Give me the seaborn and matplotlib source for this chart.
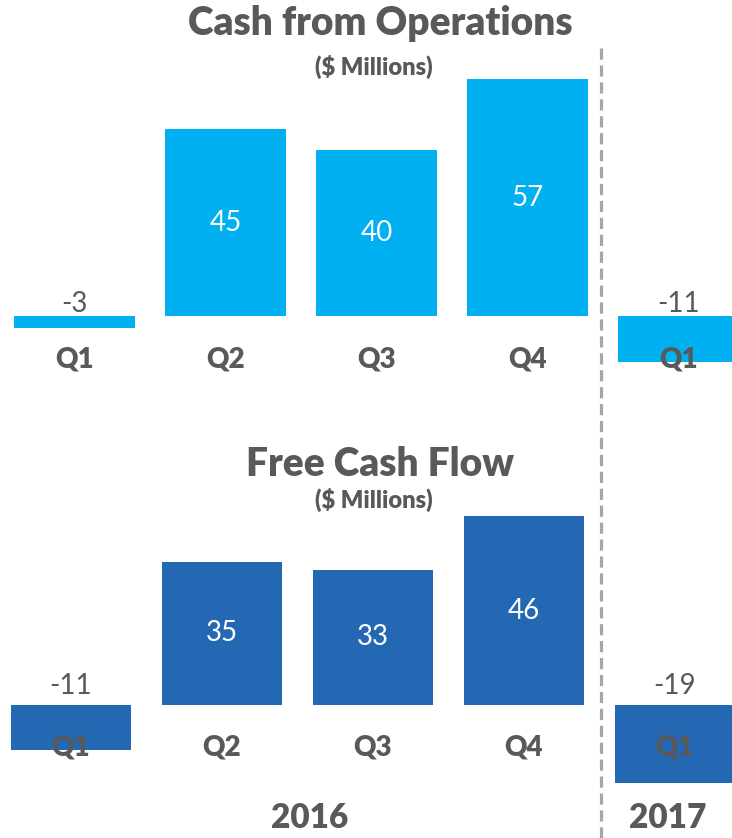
import pandas as pd
import matplotlib.pyplot as plt
import seaborn as sns
from matplotlib.lines import Line2D

# Data ($ Millions)
periods = ['2016 Q1', '2016 Q2', '2016 Q3', '2016 Q4', '2017 Q1']
quarter_labels = ['Q1', 'Q2', 'Q3', 'Q4', 'Q1']
cash_ops = [-3, 45, 40, 57, -11]
free_cash = [-11, 35, 33, 46, -19]
years = ['2016', '2017']

sns.set_theme(style='white')
plt.rcParams['font.family'] = ['Lato', 'DejaVu Sans']
GREY = '#595959'

W, H = 732, 838
fig = plt.figure(figsize=(W / 100, H / 100), dpi=100)


def px_axes(top, bottom):
    # axes spanning full width, given pixel rows
    return fig.add_axes([0, (H - bottom) / H, 1, (bottom - top) / H])


def draw_panel(ax, values, color, xlim, ylim, title_y, sub_y, title, q_off, neg_off):
    df = pd.DataFrame({'period': periods, 'value': values})
    sns.barplot(data=df, x='period', y='value', order=periods, color=color,
                saturation=1, width=0.8, linewidth=0, ax=ax)
    ax.set_xlim(*xlim)
    ax.set_ylim(*ylim)
    ax.axis('off')
    ax.patch.set_alpha(0)
    for i, v in enumerate(values):
        if v >= 0:
            ax.text(i, v / 2, str(v), ha='center', va='center',
                    fontsize=20, color='white')
        else:
            ax.annotate(str(v), (i, 0), xytext=(0, neg_off), textcoords='offset points',
                        ha='center', va='center', fontsize=20, color=GREY)
        ax.annotate(quarter_labels[i], (i, 0), xytext=(0, q_off), textcoords='offset points',
                    ha='center', va='center', fontsize=20, fontweight='heavy', color=GREY)
    fig.text(380 / W, 1 - title_y / H, title, ha='center', va='center',
             fontsize=28, fontweight='heavy', color=GREY)
    fig.text(374 / W, 1 - sub_y / H, '($ Millions)', ha='center', va='center',
             fontsize=17, fontweight='heavy', color=GREY)


# Top panel: zero at y=316px, ~4.15 px per unit, bar pitch 151px
ax1 = px_axes(40, 420)
draw_panel(ax1, cash_ops, '#00B0F0',
           (-74.5 / 151, (W - 74.5) / 151),
           (-(420 - 316) / 4.15, (316 - 40) / 4.15),
           23, 67, 'Cash from Operations', -31.5, 9)

# Bottom panel: zero at y=705px, ~4.1 px per unit
ax2 = px_axes(430, 838)
draw_panel(ax2, free_cash, '#2468B4',
           (-71 / 151, (W - 71) / 151),
           (-(838 - 705) / 4.1, (705 - 430) / 4.1),
           464, 500, 'Free Cash Flow', -30.5, 14)

# Year labels
fig.text(310 / W, 1 - 818 / H, years[0], ha='center', va='center',
         fontsize=24, fontweight='heavy', color=GREY)
fig.text(668 / W, 1 - 818 / H, years[1], ha='center', va='center',
         fontsize=24, fontweight='heavy', color=GREY)

# Dashed separator between years
fig.add_artist(Line2D([601 / W, 601 / W], [0, 1 - 45 / H], transform=fig.transFigure,
                      color='#A6A6A6', linewidth=2.3, linestyle=(0, (3.5, 1.8))))

fig.savefig('out.png', dpi=100)
